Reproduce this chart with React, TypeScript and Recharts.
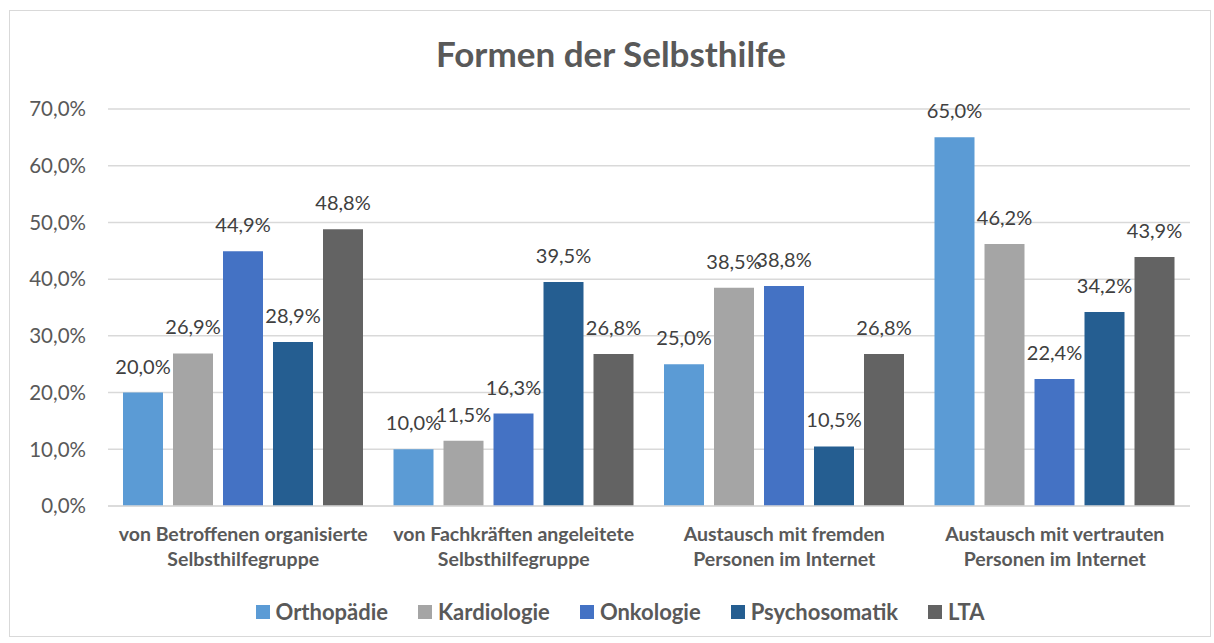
import { BarChart, Bar, XAxis, YAxis, CartesianGrid, LabelList } from 'recharts';

const categories = [
  'von Betroffenen organisierte\nSelbsthilfegruppe',
  'von Fachkräften angeleitete\nSelbsthilfegruppe',
  'Austausch mit fremden\nPersonen im Internet',
  'Austausch mit vertrauten\nPersonen im Internet',
];

const orthopaedie = [20.0, 10.0, 25.0, 65.0];
const kardiologie = [26.9, 11.5, 38.5, 46.2];
const onkologie = [44.9, 16.3, 38.8, 22.4];
const psychosomatik = [28.9, 39.5, 10.5, 34.2];
const lta = [48.8, 26.8, 26.8, 43.9];

const yTicks = [0, 10, 20, 30, 40, 50, 60, 70];

const series = [
  { key: 'orthopaedie', name: 'Orthopädie', color: '#5B9BD5', values: orthopaedie },
  { key: 'kardiologie', name: 'Kardiologie', color: '#A5A5A5', values: kardiologie },
  { key: 'onkologie', name: 'Onkologie', color: '#4472C4', values: onkologie },
  { key: 'psychosomatik', name: 'Psychosomatik', color: '#255E91', values: psychosomatik },
  { key: 'lta', name: 'LTA', color: '#636363', values: lta },
];

const data = categories.map((category, i) => {
  const row: Record<string, string | number> = { category };
  series.forEach((s) => {
    row[s.key] = s.values[i];
  });
  return row;
});

const FONT = 'Lato, "Open Sans", sans-serif';
const pct = (v: number) => `${v.toFixed(1).replace('.', ',')}%`;

// two-line bold category label under each group
const CategoryTick = ({ x, y, payload }: any) => {
  const lines = String(payload.value).split('\n');
  return (
    <text x={x} y={y + 27} textAnchor="middle" fill="#595959" fontFamily={FONT} fontWeight={700} fontSize={19.5}>
      {lines.map((line, i) => (
        <tspan key={i} x={x} dy={i === 0 ? 0 : 25}>
          {line}
        </tspan>
      ))}
    </text>
  );
};

export default function App() {
  return (
    <div style={{ position: 'absolute', left: 0, top: 0, width: 1214, height: 643, background: '#fff' }}>
      <div
        style={{
          position: 'absolute',
          left: 9,
          top: 10,
          width: 1200,
          height: 625,
          border: '1px solid #d9d9d9',
        }}
      />
      <div
        style={{
          position: 'absolute',
          left: 0,
          top: 32,
          width: 1222,
          textAlign: 'center',
          fontFamily: FONT,
          fontWeight: 700,
          fontSize: 35,
          color: '#595959',
        }}
      >
        Formen der Selbsthilfe
      </div>
      <BarChart
        width={1214}
        height={643}
        data={data}
        margin={{ top: 109, right: 24, bottom: 0, left: 8 }}
        barCategoryGap={15}
        barGap={10}
        style={{ position: 'absolute', left: 0, top: 0 }}
      >
        <CartesianGrid vertical={false} stroke="#d9d9d9" strokeWidth={1.5} />
        <XAxis
          dataKey="category"
          height={137}
          axisLine={{ stroke: '#d9d9d9', strokeWidth: 1.5 }}
          tickLine={false}
          tick={<CategoryTick />}
          interval={0}
        />
        <YAxis
          width={100}
          domain={[0, 70]}
          ticks={yTicks}
          tickFormatter={pct}
          axisLine={false}
          tickLine={false}
          tickSize={0}
          tickMargin={22}
          tick={{ fill: '#595959', fontSize: 20.5, fontFamily: FONT }}
        />
        {series.map((s) => (
          <Bar key={s.key} dataKey={s.key} name={s.name} fill={s.color} isAnimationActive={false}>
            <LabelList
              dataKey={s.key}
              position="top"
              offset={19}
              formatter={(v: any) => pct(Number(v))}
              fill="#404040"
              fontSize={20}
              fontFamily={FONT}
            />
          </Bar>
        ))}
      </BarChart>
      <div
        style={{
          position: 'absolute',
          left: 0,
          top: 598,
          width: 1240,
          display: 'flex',
          justifyContent: 'center',
          gap: 30,
          fontFamily: FONT,
          fontWeight: 700,
          fontSize: 22,
          color: '#595959',
        }}
      >
        {series.map((s) => (
          <div key={s.key} style={{ display: 'flex', alignItems: 'center' }}>
            <span style={{ width: 14, height: 14, background: s.color, marginRight: 6, display: 'inline-block' }} />
            {s.name}
          </div>
        ))}
      </div>
    </div>
  );
}
